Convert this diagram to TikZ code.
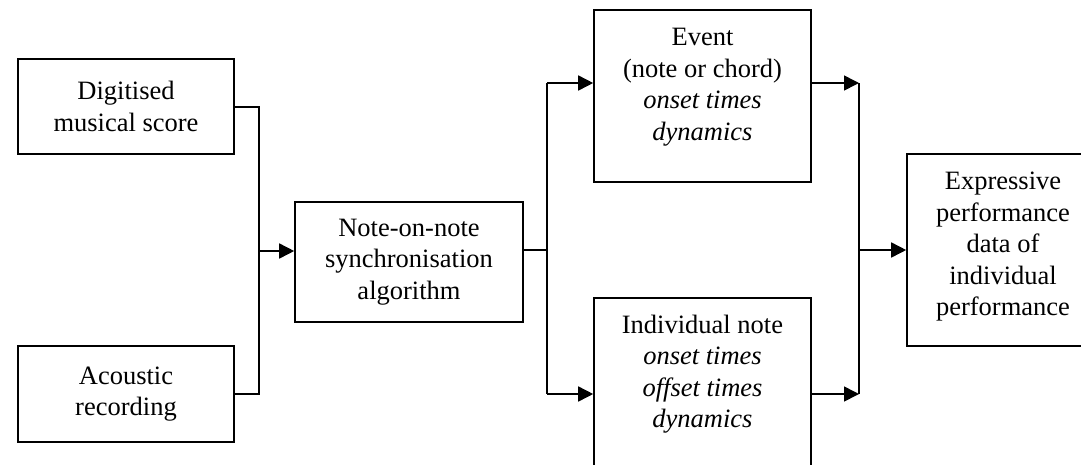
\documentclass[tikz,border=0pt]{standalone}
\usepackage{fontspec}
\setmainfont{Liberation Serif}
\usetikzlibrary{arrows.meta}
\begin{document}
\begin{tikzpicture}[x=1pt,y=-1pt,
  box/.style={draw,line width=1.6pt,inner sep=0pt},
  txt/.style={align=center,inner sep=0pt,font=\fontsize{26.5}{31.5}\selectfont},
  conn/.style={line width=1.6pt},
  arr/.style={line width=1.6pt,-{Triangle[length=15pt,width=15pt]}}]
\useasboundingbox (0,0) rectangle (1081,464);
% boxes
\node[box,minimum width=216pt,minimum height=95pt] (dig) at (126,106.5) {};
\node[txt] (digt) at (dig.center) {Digitised\\musical score};
\node[box,minimum width=216pt,minimum height=96pt] (aco) at (126,394) {};
\node[txt] (acot) at (aco.center) {Acoustic\\recording};
\node[box,minimum width=228pt,minimum height=120pt] (sync) at (409,262) {};
\node[txt] (synct) at (sync.center) {Note-on-note\\synchronisation\\algorithm};
\node[box,minimum width=217pt,minimum height=172pt] (event) at (702.5,96) {};
\node[txt] (eventt) at ([yshift=9pt]event.center) {Event\\(note or chord)\\\textit{onset times}\\\textit{dynamics}};
\node[box,minimum width=217pt,minimum height=180pt] (ind) at (702.5,388) {};
\node[txt] (indt) at (702.5,374) {Individual note\\\textit{onset times}\\\textit{offset times}\\\textit{dynamics}};
\node[box,minimum width=192pt,minimum height=192pt] (expr) at (1003,250) {};
\node[txt] (exprt) at (1003,247) {Expressive\\performance\\data of\\individual\\performance};
% junction coordinates
\coordinate (j1a) at (259,107);
\coordinate (j1b) at (259,394);
\coordinate (j1) at (259,251);
\coordinate (j2) at (547,250);
\coordinate (j2a) at (547,83);
\coordinate (j2b) at (547,394);
\coordinate (j3a) at (859,83);
\coordinate (j3b) at (859,394);
\coordinate (j3) at (859,250);
% connectors
\draw[conn] (dig.east |- j1a) -- (j1a) -- (j1b) -- (aco.east |- j1b);
\draw[arr] (j1) -- (sync.west |- j1);
\draw[conn] (sync.east |- j2) -- (j2);
\draw[conn] (j2a) -- (j2b);
\draw[arr] (j2a) -- (event.west |- j2a);
\draw[arr] (j2b) -- (ind.west |- j2b);
\draw[arr] (event.east |- j3a) -- (j3a);
\draw[arr] (ind.east |- j3b) -- (j3b);
\draw[conn] (j3a) -- (j3b);
\draw[arr] (j3) -- (expr.west |- j3);
\end{tikzpicture}
\end{document}
